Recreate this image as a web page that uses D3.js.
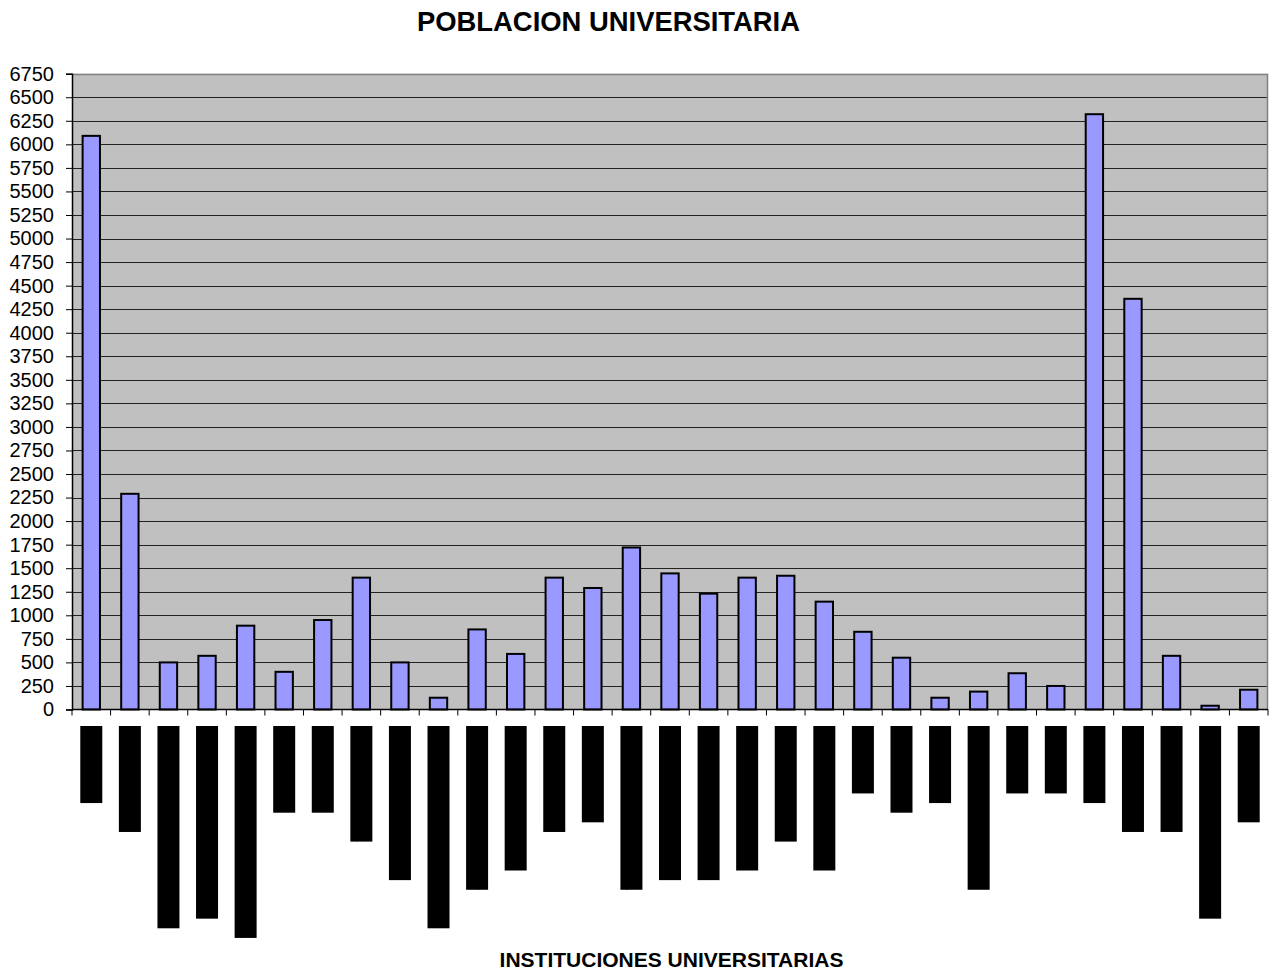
<!DOCTYPE html>
<html>
<head>
<meta charset="utf-8">
<script src="https://cdn.jsdelivr.net/npm/d3@7"></script>
<style>
  html, body { margin: 0; padding: 0; background: #ffffff; }
  svg { display: block; }
</style>
</head>
<body>
<svg id="chart" width="1277" height="973"></svg>
<script>
// Institutions (category axis)
const categories = [
  "U.P.E.L.", "IUTIRLA VAL", "I.U.T. PUERTO CABELLO", "C.U. PSICOPEDAGÓGICO",
  "UNIV. NACIONAL ABIERTA", "IUPSM VAL", "UNESR VAL", "C.U. GUACARA",
  "C.U. DE CARABOBO", "I.U. DE MERCADOTECNIA", "IUT RUFINO BLANCO", "U. JOSÉ A. PÁEZ",
  "I.U. CARIBE", "UNEFA VAL.", "UNIV. NVA ESPARTA", "I.U. JEAN PIAGET",
  "C.U. FERMÍN TORO", "I.U. SAN MARCOS", "I.U. YACAMBÚ", "U. A. MICHELENA",
  "IUTEPAL", "I.U. AVEC", "I.U.T.C.", "IUT DE LOS LLANOS",
  "UCAB V.", "UNELLEZ", "UC FACES", "UC MEDICINA",
  "UC CIENCIAS", "UC ÁREA DE POSTGRADO", "UC DERECHO"
];

// Student population per institution
const values = [
  6090, 2290, 500, 570, 890, 400, 950, 1400,
  500, 125, 850, 590, 1400, 1290, 1720, 1445,
  1230, 1400, 1420, 1145, 825, 550, 125, 190,
  385, 250, 6320, 4360, 570, 40, 210
];

// Value axis ticks
const yTicks = [0, 250, 500, 750, 1000, 1250, 1500, 1750, 2000, 2250, 2500, 2750,
  3000, 3250, 3500, 3750, 4000, 4250, 4500, 4750, 5000, 5250, 5500, 5750,
  6000, 6250, 6500, 6750];

const title = "POBLACION UNIVERSITARIA";
const xTitle = "INSTITUCIONES UNIVERSITARIAS";

const svg = d3.select("#chart");
const plot = { left: 72, right: 1268, top: 73.7, bottom: 709.5 };

const x = d3.scaleBand()
  .domain(categories)
  .range([plot.left, plot.right])
  .paddingInner(0.55)
  .paddingOuter(0.275);

const y = d3.scaleLinear()
  .domain([0, 6750])
  .range([plot.bottom, plot.top]);

// Plot background
svg.append("rect")
  .attr("x", plot.left).attr("y", plot.top)
  .attr("width", plot.right - plot.left)
  .attr("height", plot.bottom - plot.top)
  .attr("fill", "#c0c0c0");

// Horizontal gridlines
svg.append("g")
  .selectAll("line")
  .data(yTicks.filter(d => d > 0 && d < 6750))
  .join("line")
  .attr("x1", plot.left).attr("x2", plot.right)
  .attr("y1", d => Math.round(y(d)) + 0.5)
  .attr("y2", d => Math.round(y(d)) + 0.5)
  .attr("stroke", "#222")
  .attr("stroke-width", 1.2);

// Frame: top and right edges in grey
svg.append("path")
  .attr("d", `M${plot.left},${Math.round(plot.top) + 0.5}H${plot.right - 0.5}V${plot.bottom}`)
  .attr("fill", "none")
  .attr("stroke", "#808080")
  .attr("stroke-width", 1.5);

// Bars
svg.append("g")
  .selectAll("rect")
  .data(values)
  .join("rect")
  .attr("x", (d, i) => x(categories[i]))
  .attr("y", d => y(d))
  .attr("width", x.bandwidth())
  .attr("height", d => y(0) - y(d))
  .attr("fill", "#9999ff")
  .attr("stroke", "#000")
  .attr("stroke-width", 2);

// Y axis
const yAxis = d3.axisLeft(y)
  .tickValues(yTicks)
  .tickSize(6)
  .tickPadding(12)
  .tickFormat(d3.format("d"));

const gy = svg.append("g")
  .attr("transform", `translate(${plot.left},0)`)
  .call(yAxis);
gy.select(".domain").attr("stroke", "#000").attr("stroke-width", 1.5);
gy.selectAll(".tick line").attr("stroke", "#000");
gy.selectAll(".tick text")
  .attr("font-family", "Arial, 'Liberation Sans', sans-serif")
  .attr("font-size", 20)
  .attr("fill", "#000");

// X axis baseline and tick marks at category boundaries
svg.append("line")
  .attr("x1", plot.left).attr("x2", plot.right)
  .attr("y1", plot.bottom).attr("y2", plot.bottom)
  .attr("stroke", "#000").attr("stroke-width", 1.5);

const boundaries = categories.map(c => x(c) + x.bandwidth() / 2 - x.step() / 2)
  .concat([x(categories[categories.length - 1]) + x.bandwidth() / 2 + x.step() / 2]);
svg.append("g")
  .selectAll("line")
  .data(boundaries)
  .join("line")
  .attr("x1", d => d).attr("x2", d => d)
  .attr("y1", plot.bottom).attr("y2", plot.bottom + 6)
  .attr("stroke", "#000").attr("stroke-width", 1);

// Category labels: vertical text on solid black label boxes
const labelTop = 726;
const labelWidth = 22;
const labels = svg.append("g")
  .selectAll("g")
  .data(categories)
  .join("g")
  .attr("transform", d => `translate(${x(d) + x.bandwidth() / 2},${labelTop})`);

labels.append("text")
  .attr("transform", "rotate(90)")
  .attr("text-anchor", "start")
  .attr("dominant-baseline", "central")
  .attr("font-family", "'DejaVu Sans Mono', 'Liberation Mono', monospace")
  .attr("font-weight", "bold")
  .attr("font-size", 16)
  .attr("fill", "#000")
  .text(d => d);

labels.each(function () {
  const g = d3.select(this);
  const len = g.select("text").node().getComputedTextLength();
  g.insert("rect", "text")
    .attr("x", -labelWidth / 2)
    .attr("y", 0)
    .attr("width", labelWidth)
    .attr("height", len)
    .attr("fill", "#000");
});

// Titles
svg.append("text")
  .attr("x", 608.5).attr("y", 31)
  .attr("text-anchor", "middle")
  .attr("font-family", "Arial, 'Liberation Sans', sans-serif")
  .attr("font-weight", "bold")
  .attr("font-size", 27.4)
  .attr("fill", "#000")
  .text(title);

svg.append("text")
  .attr("x", 671.5).attr("y", 967)
  .attr("text-anchor", "middle")
  .attr("font-family", "Arial, 'Liberation Sans', sans-serif")
  .attr("font-weight", "bold")
  .attr("font-size", 21)
  .attr("fill", "#000")
  .text(xTitle);
</script>
</body>
</html>
